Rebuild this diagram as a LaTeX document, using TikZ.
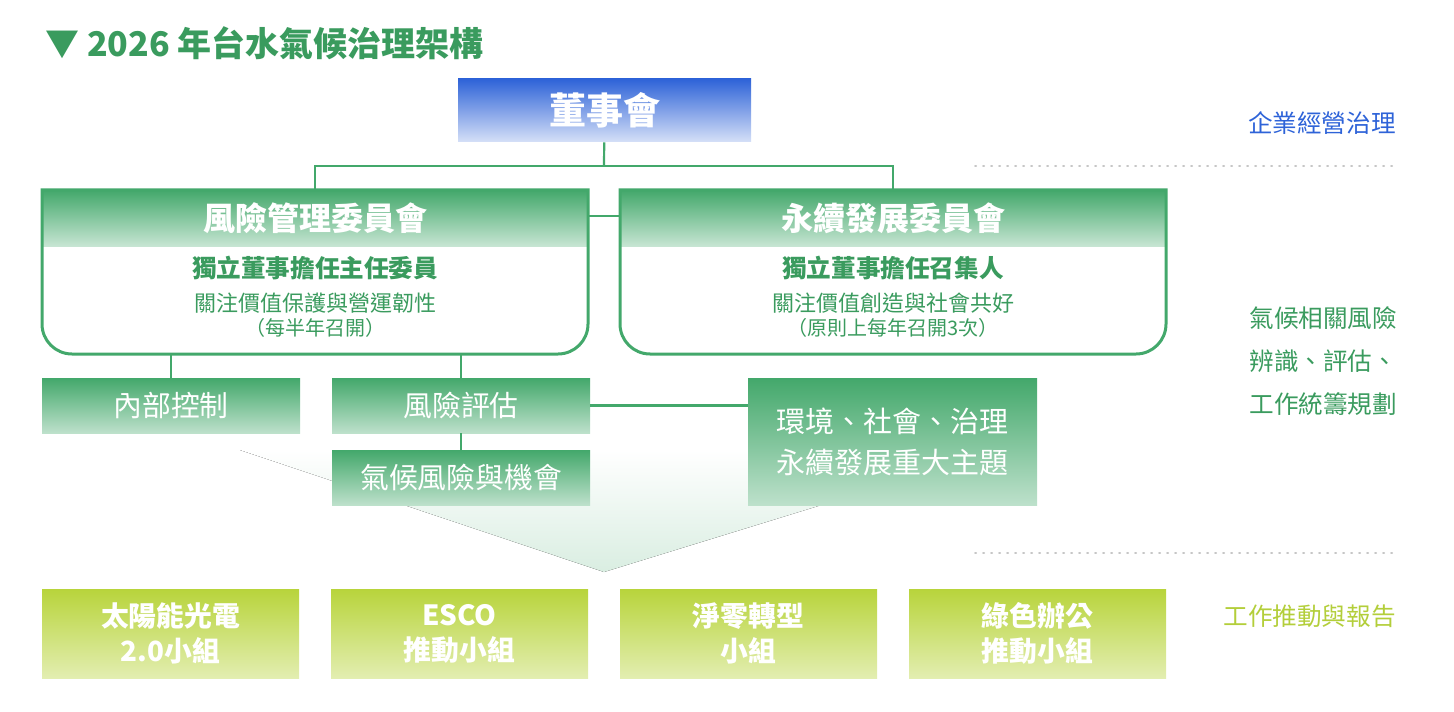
\documentclass[tikz,border=0pt]{standalone}
\usepackage{fontspec}
\setmainfont{Noto Sans CJK TC}
\begin{document}
\definecolor{G}{HTML}{43A86B}
\definecolor{GT}{HTML}{3A9B5E}
\definecolor{B}{HTML}{2E63D8}
\definecolor{L}{HTML}{B8D43B}
\definecolor{LT}{HTML}{B3CE3A}
\begin{tikzpicture}[x=0.5pt,y=-0.5pt,
  fs/.style={font=\fontsize{#1}{#1}\selectfont},
  gbox/.style={rectangle, inner sep=0pt, text=white, top color=G, middle color=G, bottom color=G!35!white},
  lbox/.style={rectangle, inner sep=0pt, text=white, font=\bfseries\fontsize{13.9}{17.5}\selectfont, align=center, top color=L, middle color=L, bottom color=L!40!white, minimum width=128.5pt, minimum height=44.5pt},
  conn/.style={draw=G, line width=1.1pt},
  dots/.style={draw=gray!45, line width=1pt, dash pattern=on 0.5pt off 3.5pt, line cap=round}]
\useasboundingbox (0,0) rectangle (1454,711);
% funnel
\fill[top color=white, bottom color=G!20!white] (240,450) -- (1000,450) -- (604,572) -- cycle;
% title
\node[anchor=west, inner sep=0pt, text=GT, font=\bfseries\fontsize{17}{17}\selectfont] (title) at (45,43) {▼ 2026 年台水氣候治理架構};
% board
\node[rectangle, inner sep=0pt, minimum width=146.5pt, minimum height=31.5pt, top color=B, middle color=B!90!white, bottom color=B!20!white, text=white, font=\bfseries\fontsize{18.5}{18.5}\selectfont] (board) at (604.5,110.5) {董事會};
\coordinate (j) at (604,166);
% committees
\foreach \n/\cx/\tt/\ta/\tb/\tc in {rc/315/風險管理委員會/獨立董事擔任主任委員/關注價值保護與營運韌性/（每半年召開）, sc/893/永續發展委員會/獨立董事擔任召集人/關注價值創造與社會共好/（原則上每年召開3次）}{
  \node[minimum width=273pt, minimum height=82pt, inner sep=0pt] (\n) at (\cx,272) {};
  \shade[top color=G, middle color=G, bottom color=G!30!white] ([xshift=-136.5pt]\cx,190) rectangle ([xshift=136.5pt]\cx,246);
  \draw[G, line width=1.5pt] ([xshift=-136.5pt]\cx,190) [rounded corners=15pt] -- ([xshift=-136.5pt]\cx,354) -- ([xshift=136.5pt]\cx,354) [sharp corners] -- ([xshift=136.5pt]\cx,190) -- cycle;
  \node[text=white, font=\bfseries\fontsize{16}{16}\selectfont] (\n h) at (\cx,218) {\tt};
  \node[text=GT, font=\bfseries\fontsize{12.3}{12.3}\selectfont] (\n a) at (\cx,268) {\ta};
  \node[text=GT, fs=11] (\n b) at (\cx,303) {\tb};
  \node[text=GT, fs=10] (\n c) at (\cx,328) {\tc};
}
\draw[conn] (board) -- (j);
\draw[conn] (j) -| (rc.north);
\draw[conn] (j) -| (sc.north);
\draw[conn] ([yshift=28pt]rc.east) -- ([yshift=28pt]sc.west);
% small boxes
\node[gbox, minimum width=129pt, minimum height=27.5pt, fs=14.4] (ic) at (171,405.5) {內部控制};
\node[gbox, minimum width=129pt, minimum height=27.5pt, fs=14.4] (ra) at (461,405.5) {風險評估};
\node[gbox, minimum width=129pt, minimum height=27.5pt, fs=14.4] (cro) at (461,477.5) {氣候風險與機會};
\node[gbox, minimum width=144.5pt, minimum height=63.5pt, align=center, font=\fontsize{14.5}{20.5}\selectfont] (esg) at (892.5,441.5) {環境、社會、治理\\永續發展重大主題};
\draw[conn] (rc.south -| ic.north) -- (ic.north);
\draw[conn] (rc.south -| ra.north) -- (ra.north);
\draw[conn] (ra) -- (cro);
\draw[conn] (ra.east) -- (esg.west |- ra.east);
% bottom boxes
\node[lbox] (b1) at (170.5,633.5) {太陽能光電\\2.0小組};
\node[lbox] (b2) at (459.5,633.5) {ESCO\\推動小組};
\node[lbox] (b3) at (748.5,633.5) {淨零轉型\\小組};
\node[lbox] (b4) at (1037.5,633.5) {綠色辦公\\推動小組};
% dotted separators
\coordinate (d1a) at (975,166); \coordinate (d1b) at (1396,166);
\coordinate (d2a) at (975,553); \coordinate (d2b) at (1396,553);
\draw[dots] (d1a) -- (d1b);
\draw[dots] (d2a) -- (d2b);
% right labels
\node[anchor=east, inner sep=0pt, text=B, fs=12.3] (r1) at (1396,123) {企業經營治理};
\node[anchor=west, inner sep=0pt, text=GT, align=left, font=\fontsize{12.3}{21.5}\selectfont] (r2) at (1249,361) {氣候相關風險\\辨識、評估、\\工作統籌規劃};
\node[anchor=east, inner sep=0pt, text=LT, fs=12.3] (r3) at (1396,616) {工作推動與報告};
\end{tikzpicture}
\end{document}
